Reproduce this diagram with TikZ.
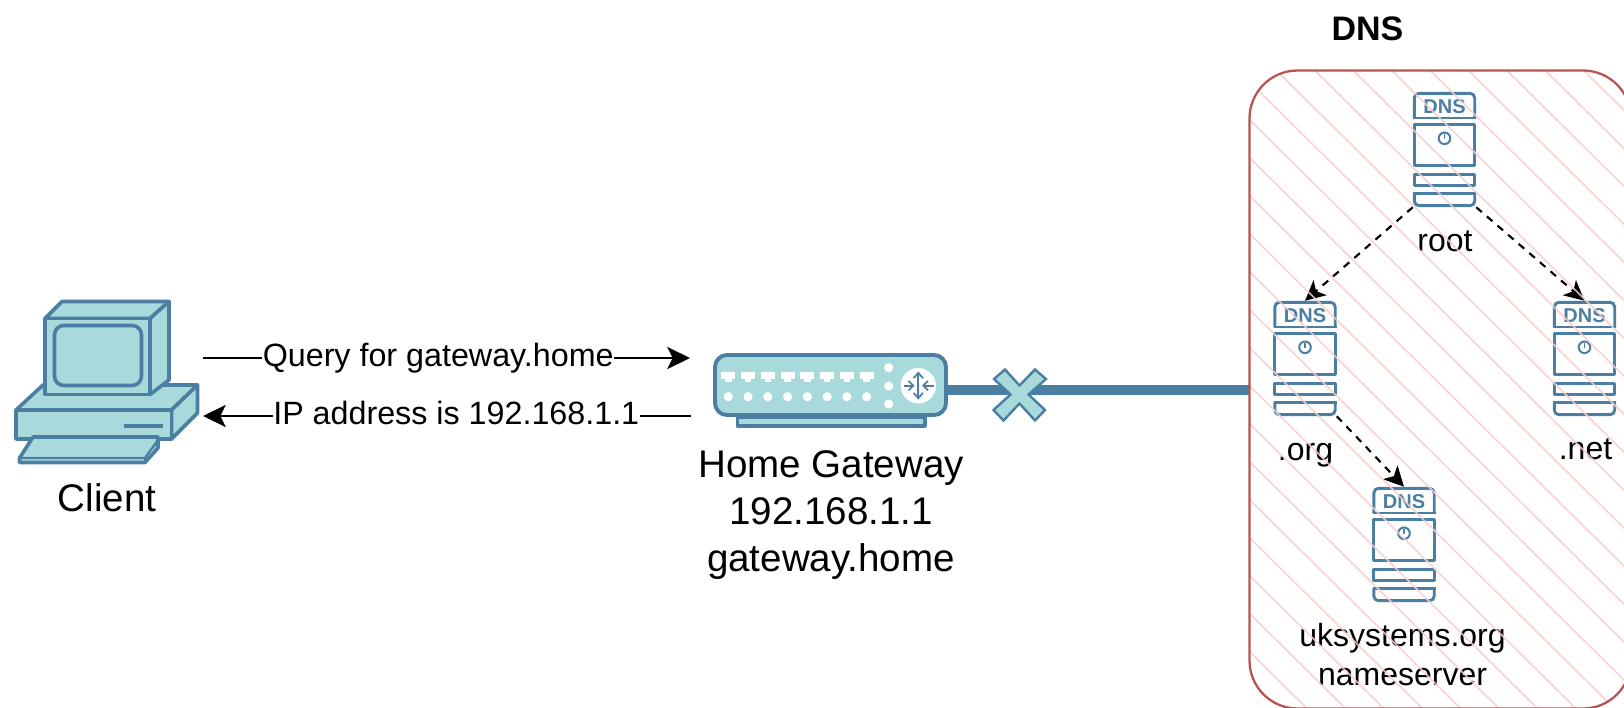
\documentclass[tikz,border=0pt]{standalone}
\usepackage{fontspec}
\setmainfont{Liberation Sans}
\usetikzlibrary{arrows.meta,calc}
\definecolor{iconblue}{HTML}{4A7EA3}
\definecolor{iconfill}{HTML}{A8D9DB}
\definecolor{boxred}{HTML}{B85450}
\definecolor{hatchpink}{HTML}{F8CECC}
\tikzset{
  icon/.style={draw=iconblue,fill=iconfill,line width=2.7pt,line join=round},
  srvline/.style={draw=iconblue,line width=2.2pt,line join=round},
  srvbox/.style={rectangle,minimum width=47.25pt,minimum height=86.25pt,inner sep=0pt},
  gwbox/.style={rectangle,minimum width=176.25pt,minimum height=55.5pt,inner sep=0pt},
  dnsarea/.style={rectangle,minimum width=286.5pt,minimum height=478.5pt,inner sep=0pt},
  small/.style={font=\fontsize{24}{28.5}\selectfont,align=center,text=black},
  big/.style={font=\fontsize{28.9}{35.25}\selectfont,align=center,text=black},
  msg/.style={-{Stealth[length=17pt,width=16.5pt,inset=4pt]},black,line width=1.7pt},
  dnslink/.style={-{Stealth[length=15pt,width=15pt,inset=4pt]},black,line width=1.6pt,dash pattern=on 5.5pt off 5pt},
  msglabel/.style={font=\fontsize{24.2}{28.5}\selectfont,fill=white,inner xsep=0.5pt,inner ysep=1pt,anchor=base,yshift=-6pt},
  dnsunit/.pic={
    \draw[srvline,rounded corners=3.5pt] (-30.2,-31.5) -- (-30.2,-56.2) -- (30.2,-56.2) -- (30.2,-31.5);
    \draw[srvline] (-31.5,-31.5) -- (31.5,-31.5);
    \draw[srvline] (-30.2,-25.2) rectangle (30.2,16.2);
    \draw[srvline] (-30.2,24.8) rectangle (30.2,36.2);
    \draw[srvline,rounded corners=3.5pt] (-30.2,43.8) -- (-30.2,56.2) -- (30.2,56.2) -- (30.2,43.8);
    \draw[srvline] (-31.5,43.8) -- (31.5,43.8);
    \draw[draw=iconblue,line width=1.5pt] (0,-11.2) circle (5.8);
    \draw[draw=iconblue,line width=1.2pt] (0,-15.5) -- (0,-10.5);
    \node[anchor=base,inner sep=0pt,text=iconblue,font=\fontsize{15}{18}\selectfont\bfseries] (-tag) at (0,-36.5) {DNS};
  },
}
\begin{document}
\begin{tikzpicture}[x=0.75pt,y=-0.75pt]
\useasboundingbox (0,0) rectangle (1624,707);
\fill[white] (0,0) rectangle (1624,707);

% named anchors
\node[gwbox] (gw) at (830.5,390) {};
\node[dnsarea] (dnsbox) at (1440.25,389.5) {};
\node[srvbox] (root) at (1444.5,149.5) {};
\node[srvbox] (org) at (1305,358.5) {};
\node[srvbox] (net) at (1584.5,358.5) {};
\node[srvbox] (uk) at (1404,544.5) {};

% client
\draw[icon] (16,410) -- (43,385) -- (197.5,385) -- (171.5,410) -- cycle;
\draw[icon] (171.5,410) -- (197.5,385) -- (197.5,413) -- (171.5,439) -- cycle;
\draw[icon] (16,410) rectangle (171.5,439);
\draw[draw=iconblue,line width=3pt] (124,426) -- (163,426);
\draw[icon] (33,437) -- (158,437) -- (158,448) -- (145,462.5) -- (19.5,462.5) -- (19.5,458) -- cycle;
\draw[draw=iconblue,line width=1.8pt] (19.5,458) -- (145,458) -- (158,440);
\draw[draw=iconblue,line width=1.8pt] (145,458) -- (145,462.5);
\draw[icon] (45,318.5) -- (62,301.5) -- (169,301.5) -- (150,318.5) -- cycle;
\draw[icon] (150,318.5) -- (169,301.5) -- (169,380) -- (150,394.5) -- cycle;
\draw[icon] (45,318.5) rectangle (150,394.5);
\draw[icon,rounded corners=7pt] (54.5,325.5) rectangle (141.5,385.5);
\node[big,anchor=base,inner sep=0pt] (clientlabel) at (107,511) {Client};

% message arrows
\coordinate (qa) at (203,358);
\coordinate (qb) at (690,358);
\coordinate (ra) at (691,416);
\coordinate (rb) at (203,416);
\draw[msg] (qa) -- node[msglabel,pos=0.483] (qlabel) {Query for gateway.home} (qb);
\draw[msg] (ra) -- node[msglabel,pos=0.481] (rlabel) {IP address is 192.168.1.1} (rb);

% uplink
\draw[draw=iconblue,line width=6.8pt] (gw.east) -- (gw.east -| dnsbox.west);

% gateway
\draw[icon,line width=2.3pt] (737.5,417) rectangle (925,426);
\draw[icon,line width=2.9pt,rounded corners=9pt] (715,355) rectangle (946,415);
\foreach \i in {0,...,7}{
  \fill[white] ({728.3+19.76*\i-7},372.3) rectangle ({728.3+19.76*\i+7},379.3);
  \fill[white] ({728.3+19.76*\i-3.2},379) rectangle ({728.3+19.76*\i+3.2},382.2);
  \fill[white] ({728.3+19.76*\i},396.7) circle (4.6);
}
\fill[white] (888.7,367.7) circle (4.6);
\fill[white] (888.7,386) circle (4.6);
\fill[white] (888.7,404) circle (4.6);
\fill[white] (918.3,385.7) circle (17.7);
\begin{scope}[draw=iconblue,line width=1.3pt]
\draw[{Straight Barb[length=4pt,width=7pt]}-{Straight Barb[length=4pt,width=7pt]}] (918.3,371.5) -- (918.3,399.5);
\draw[-{Straight Barb[length=3.5pt,width=7pt]}] (903.5,385.7) -- (914.5,385.7);
\draw[-{Straight Barb[length=3.5pt,width=7pt]}] (933.5,385.7) -- (922,385.7);
\end{scope}
\node[big,inner sep=0pt] (gwlabel) at (831,515) {Home Gateway\\192.168.1.1\\gateway.home};

% cross
\draw[draw=iconblue,fill=iconfill,line width=1.8pt,line join=miter]
  (1005,369.5) -- (1019.5,385.5) -- (1035,369.5) -- (1046,379) -- (1028.5,394.5) -- (1045,410)
  -- (1035,420.5) -- (1019.5,403.5) -- (1003.5,420.5) -- (993.5,410) -- (1010.5,394.5) -- (994,379) -- cycle;

% servers
\pic (rootu) at (root) {dnsunit};
\pic (orgu) at (org) {dnsunit};
\pic (netu) at (net) {dnsunit};
\pic (uku) at (uk) {dnsunit};

% dns links
\draw[dnslink] (root.south west) -- (org.north);
\draw[dnslink] (root.south east) -- (net.north);
\draw[dnslink] (org.south east) -- (uk.north);

% labels in the area
\node[small,anchor=base,inner sep=0pt] (rootlabel) at (1445,251) {root};
\node[small,anchor=base,inner sep=0pt] (orglabel) at (1305.5,460) {.org};
\node[small,anchor=base,inner sep=0pt] (netlabel) at (1585.5,459) {.net};
\node[small,anchor=base,inner sep=0pt] (uklabel) at (1402.5,646) {uksystems.org};
\node[small,anchor=base,inner sep=0pt] (uklabelb) at (1402.5,685) {nameserver};
\node[anchor=base,inner sep=0pt,font=\fontsize{25.5}{30}\selectfont\bfseries] (dnstitle) at (1367.5,40) {DNS};

% hatching and outline
\begin{scope}
\clip[rounded corners=36pt] (1249.5,70.5) rectangle (1631,708.5);
\foreach \k in {-23,...,5}{
  \draw[hatchpink,line width=1.3pt,opacity=.85] ({1468+38.4*\k},70) -- ({1468+38.4*\k+645},708);
}
\end{scope}
\draw[boxred,line width=1.7pt,rounded corners=36pt] (1249.5,70.5) rectangle (1631,708.5);
\end{tikzpicture}
\end{document}
